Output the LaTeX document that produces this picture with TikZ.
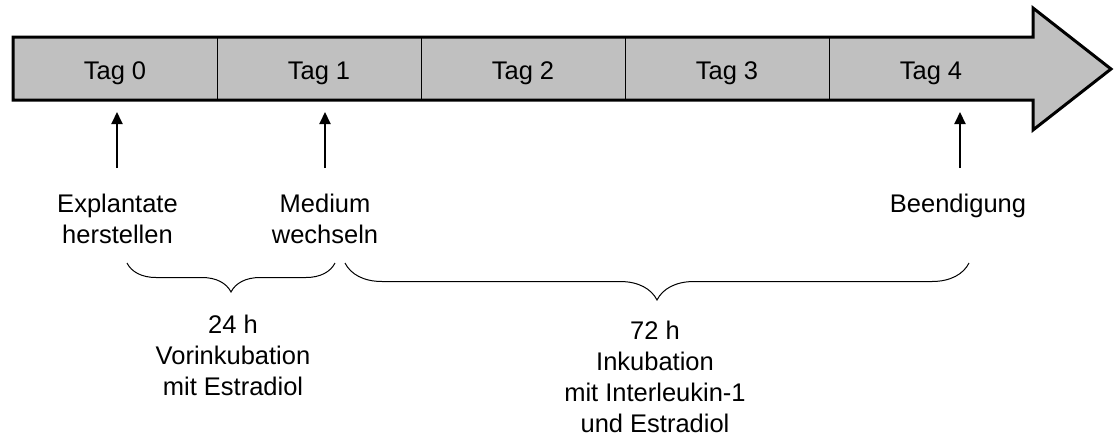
\documentclass[tikz,border=0pt]{standalone}
\usepackage{fontspec}
\setmainfont{Liberation Sans}
\usetikzlibrary{arrows.meta,decorations.pathreplacing}
\definecolor{cellgray}{HTML}{C0C0C0}
\begin{document}
\begin{tikzpicture}[x=1pt,y=-1pt,
  cell/.style={minimum width=204pt,minimum height=63pt,inner sep=0pt,text height=21pt,text depth=0pt,font=\fontsize{25.5}{31}\selectfont},
  lbl/.style={align=center,inner sep=0pt,font=\fontsize{25.5}{31}\selectfont},
  uparrow/.style={line width=2pt,-{Triangle[length=12pt,width=11pt]}},
  bracestyle/.style={line width=1pt,decorate,decoration={brace,mirror,amplitude=#1}}]
\useasboundingbox (0,0) rectangle (1114,437);
% outline
\draw[line width=3pt,fill=cellgray,line join=miter] (13,37) -- (1033,37) -- (1033,8) -- (1111,69) -- (1033,130) -- (1033,100) -- (13,100) -- cycle;
\node[cell] (c0) at (115,68.5) {Tag 0};
\node[cell] (c1) at (319,68.5) {Tag 1};
\node[cell] (c2) at (523,68.5) {Tag 2};
\node[cell] (c3) at (727,68.5) {Tag 3};
\node[cell] (c4) at (931,68.5) {Tag 4};
\foreach \c in {c0,c1,c2,c3} \draw[line width=1.2pt] (\c.north east) -- (\c.south east);
% arrows
\coordinate (a0s) at (117,168); \coordinate (a0e) at (117,112);
\coordinate (a1s) at (325,168); \coordinate (a1e) at (325,112);
\coordinate (a4s) at (960,168); \coordinate (a4e) at (960,112);
\draw[uparrow] (a0s) -- (a0e);
\draw[uparrow] (a1s) -- (a1e);
\draw[uparrow] (a4s) -- (a4e);
% labels
\node[lbl,anchor=north] (l0) at (117.5,193.4) {Explantate\\herstellen};
\node[lbl,anchor=north] (l1) at (325,193.4) {Medium\\wechseln};
\node[lbl,anchor=north] (l4) at (958,193.4) {Beendigung};
% braces
\coordinate (b1a) at (127,263); \coordinate (b1b) at (335,263);
\coordinate (b2a) at (345,263); \coordinate (b2b) at (969,263);
\draw[bracestyle=29pt] (b1a) -- (b1b);
\draw[bracestyle=37pt] (b2a) -- (b2b);
\node[lbl,anchor=north] (d1) at (233,314.4) {24 h\\Vorinkubation\\mit Estradiol};
\node[lbl,anchor=north] (d2) at (655,320.4) {72 h\\Inkubation\\mit Interleukin-1\\und Estradiol};
\end{tikzpicture}
\end{document}
